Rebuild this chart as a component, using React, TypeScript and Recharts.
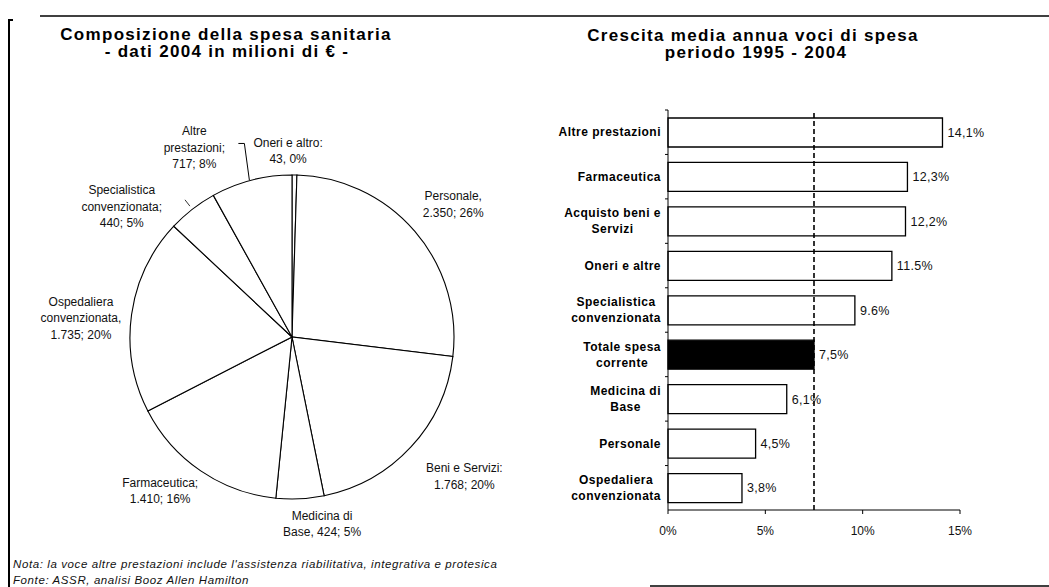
import { Bar, BarChart, Cell, LabelList, Pie, PieChart, ReferenceLine, XAxis, YAxis } from 'recharts'

const FONT = '"Liberation Sans", Arial, Helvetica, sans-serif'

// --- left: composition of health expenditure, 2004 (million €)
const pieNames = [
	'Oneri e altro',
	'Personale',
	'Beni e Servizi',
	'Medicina di Base',
	'Farmaceutica',
	'Ospedaliera convenzionata',
	'Specialistica convenzionata',
	'Altre prestazioni',
]
const pieValues = [43, 2350, 1768, 424, 1410, 1735, 440, 717]
// label wording as printed, {v} = value, {p} = share
const pieLabelTemplates = [
	'Oneri e altro:\n{v}, {p}%',
	'Personale,\n{v}; {p}%',
	'Beni e Servizi:\n{v}; {p}%',
	'Medicina di\nBase, {v}; {p}%',
	'Farmaceutica;\n{v}; {p}%',
	'Ospedaliera\nconvenzionata,\n{v}; {p}%',
	'Specialistica\nconvenzionata;\n{v}; {p}%',
	'Altre\nprestazioni;\n{v}; {p}%',
]

// --- right: average yearly growth 1995 - 2004
const growthCategories = [
	'Altre prestazioni',
	'Farmaceutica',
	'Acquisto beni e\nServizi',
	'Oneri e altre',
	'Specialistica\nconvenzionata',
	'Totale spesa\ncorrente',
	'Medicina di\nBase',
	'Personale',
	'Ospedaliera\nconvenzionata',
]
const growthValues = [14.1, 12.3, 12.2, 11.5, 9.6, 7.5, 6.1, 4.5, 3.8]
const growthLabels = ['14,1%', '12,3%', '12,2%', '11.5%', '9.6%', '7,5%', '6,1%', '4,5%', '3,8%']
const growthTicks = [0, 5, 10, 15]
const averageGrowth = 7.5

const pieTotal = pieValues.reduce((a, b) => a + b, 0)
const pieData = pieNames.map((name, i) => ({ name, value: pieValues[i], template: pieLabelTemplates[i] }))
const growthData = growthCategories.map((name, i) => ({
	name,
	value: growthValues[i],
	label: growthLabels[i],
}))

// hand placement of the pie labels, as in the printed chart
const labelNudge: Record<string, [number, number]> = {
	'Oneri e altro': [-7, 16],
	Personale: [8, -1],
	'Beni e Servizi': [24, 2],
	'Medicina di Base': [20, -15],
	Farmaceutica: [-18, -13],
	'Ospedaliera convenzionata': [-11, 9],
	'Specialistica convenzionata': [-46, 29],
	'Altre prestazioni': [-47, 6],
}

const RAD = Math.PI / 180

function thousands(v: number) {
	return String(v).replace(/\B(?=(\d{3})+(?!\d))/g, '.')
}

function PieLabel(props: any) {
	const { cx, cy, midAngle, outerRadius, payload, name } = props
	const key = name ?? payload?.name
	const item = pieData.find((d) => d.name === key)
	if (!item) return null
	const share = Math.round((item.value / pieTotal) * 100)
	const lines = item.template.replace('{v}', thousands(item.value)).replace('{p}', String(share)).split('\n')
	const [dx, dy] = labelNudge[key] ?? [0, 0]
	const r = outerRadius + 40
	const x = cx + r * Math.cos(-midAngle * RAD) + dx
	const y = cy + r * Math.sin(-midAngle * RAD) + dy
	const lh = 16.5
	const y0 = y - ((lines.length - 1) * lh) / 2
	const px = cx + outerRadius * Math.cos(-midAngle * RAD)
	const py = cy + outerRadius * Math.sin(-midAngle * RAD)
	let leader = null
	if (key === 'Altre prestazioni') {
		const ly = y - 4
		leader = <polyline points={`${px - 2},${py} ${px - 7},${ly} ${px - 13},${ly}`} fill="none" stroke="#000" strokeWidth={1} />
	} else if (key === 'Specialistica convenzionata') {
		const a = -midAngle * RAD
		leader = (
			<line
				x1={cx + (outerRadius + 4) * Math.cos(a)}
				y1={cy + (outerRadius + 4) * Math.sin(a)}
				x2={cx + (outerRadius + 12) * Math.cos(a)}
				y2={cy + (outerRadius + 12) * Math.sin(a)}
				stroke="#000"
				strokeWidth={0.8}
			/>
		)
	}
	return (
		<g>
			{leader}
			<text x={x} textAnchor="middle" fontSize={12} fill="#111" fontFamily={FONT}>
				{lines.map((l, i) => (
					<tspan key={i} x={x} y={y0 + i * lh} dy="0.35em">
						{l}
					</tspan>
				))}
			</text>
		</g>
	)
}

let measureCtx: CanvasRenderingContext2D | null = null
function textWidth(s: string, font: string) {
	if (!measureCtx) measureCtx = document.createElement('canvas').getContext('2d')
	if (!measureCtx) return s.length * 7
	measureCtx.font = font
	return measureCtx.measureText(s).width + s.length * 0.5
}

const BAR_H = 587
const BAR_MARGIN = { top: 110, right: 89, bottom: 47, left: 0 }
const X_AXIS_H = 30
const band = (BAR_H - BAR_MARGIN.top - BAR_MARGIN.bottom - X_AXIS_H) / growthCategories.length

function CategoryTick(props: any) {
	const { x, y, payload } = props
	const lines = String(payload.value).split('\n')
	const widths = lines.map((l) => textWidth(l, `bold 12px ${FONT}`))
	const blockW = Math.max(...widths)
	const tx = x - blockW / 2
	const lh = 16
	const y0 = y - ((lines.length - 1) * lh) / 2
	return (
		<g>
			<line x1={x + 4} x2={x + 7} y1={y - band / 2} y2={y - band / 2} stroke="#000" />
			<text textAnchor="middle" fontSize={12} fontWeight="bold" letterSpacing={0.5} fill="#000" fontFamily={FONT}>
				{lines.map((l, i) => (
					<tspan key={i} x={tx} y={y0 + i * lh} dy="0.35em">
						{l}
					</tspan>
				))}
			</text>
		</g>
	)
}

export default function App() {
	const titleStyle = { fontFamily: FONT, fontWeight: 'bold' as const, fontSize: 17, letterSpacing: 1.3, fill: '#000' }
	const noteStyle = { fontFamily: FONT, fontSize: 11.5, fontStyle: 'italic' as const, letterSpacing: 0.6, fill: '#111' }
	return (
		<div
			style={{
				position: 'fixed',
				left: 0,
				top: 0,
				width: 1049,
				height: 587,
				background: '#fff',
				overflow: 'hidden',
				fontFamily: FONT,
			}}
		>
			<div style={{ position: 'absolute', left: 0, top: 0 }}>
				<PieChart width={530} height={587} margin={{ top: 0, right: 0, bottom: 0, left: 0 }}>
					<Pie
						data={pieData}
						dataKey="value"
						nameKey="name"
						cx={292}
						cy={337}
						outerRadius={162}
						startAngle={90}
						endAngle={-270}
						fill="#fff"
						stroke="#000"
						strokeWidth={1.1}
						label={PieLabel}
						labelLine={false}
						isAnimationActive={false}
					>
						{pieData.map((d) => (
							<Cell key={d.name} fill="#fff" stroke="#000" />
						))}
					</Pie>
				</PieChart>
			</div>

			<div style={{ position: 'absolute', left: 530, top: 0 }}>
				<BarChart
					width={519}
					height={BAR_H}
					layout="vertical"
					data={growthData}
					margin={BAR_MARGIN}
					barSize={29}
				>
					<XAxis
						type="number"
						domain={[0, 15]}
						ticks={growthTicks}
						interval={0}
						height={X_AXIS_H}
						tickFormatter={(v: number) => `${v}%`}
						axisLine={{ stroke: '#000' }}
						tickLine={{ stroke: '#000' }}
						tickSize={4}
						tickMargin={12}
						tick={{ fontSize: 12, fill: '#111', fontFamily: FONT }}
					/>
					<YAxis
						type="category"
						dataKey="name"
						width={138}
						interval={0}
						axisLine={{ stroke: '#000' }}
						tickLine={false}
						tickSize={0}
						tickMargin={7}
						tick={(p: any) => <CategoryTick {...p} />}
					/>
					<Bar dataKey="value" stroke="#000" strokeWidth={1.3} isAnimationActive={false}>
						{growthData.map((d) => (
							<Cell key={d.name} fill={d.name.startsWith('Totale') ? '#000' : '#fff'} />
						))}
						<LabelList
							dataKey="label"
							position="right"
							offset={5}
							style={{ fontSize: 12.5, letterSpacing: 0.3, fill: '#111', fontFamily: FONT }}
						/>
					</Bar>
					<ReferenceLine x={averageGrowth} stroke="#000" strokeWidth={1.6} strokeDasharray="5 3" />
				</BarChart>
			</div>

			<svg width={1049} height={587} style={{ position: 'absolute', left: 0, top: 0, pointerEvents: 'none' }}>
				<line x1={40} y1={16} x2={1049} y2={16} stroke="#000" strokeWidth={1.4} />
				<polyline points="13,20 9,20 9,587" fill="none" stroke="#000" strokeWidth={2} />
				<line x1={650} y1={586} x2={1049} y2={586} stroke="#000" strokeWidth={1.4} />

				<text x={226} y={34} textAnchor="middle" dominantBaseline="central" {...titleStyle}>
					Composizione della spesa sanitaria
				</text>
				<text x={227} y={51} textAnchor="middle" dominantBaseline="central" {...titleStyle}>
					- dati 2004 in milioni di € -
				</text>
				<text x={753} y={35} textAnchor="middle" dominantBaseline="central" {...titleStyle}>
					Crescita media annua voci di spesa
				</text>
				<text x={756} y={52} textAnchor="middle" dominantBaseline="central" {...titleStyle}>
					periodo 1995 - 2004
				</text>

				<text x={13} y={564} dominantBaseline="central" {...noteStyle}>
					Nota: la voce altre prestazioni include l'assistenza riabilitativa, integrativa e protesica
				</text>
				<text x={13} y={580} dominantBaseline="central" {...noteStyle}>
					Fonte: ASSR, analisi Booz Allen Hamilton
				</text>
			</svg>
		</div>
	)
}
